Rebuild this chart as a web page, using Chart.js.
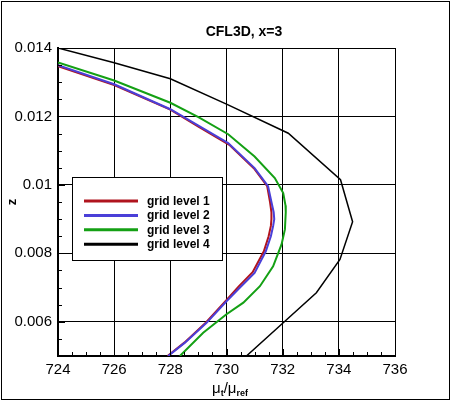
<!DOCTYPE html>
<html>
<head>
<meta charset="utf-8">
<script src="https://cdn.jsdelivr.net/npm/chart.js@4.4.1/dist/chart.umd.min.js"></script>
<style>
  html, body { margin: 0; padding: 0; background: #fff; }
</style>
</head>
<body>
<canvas id="myChart" width="450" height="401"></canvas>
<script>
// datos
const xTicks = [724, 726, 728, 730, 732, 734, 736];
const yTicks = [0.006, 0.008, 0.010, 0.012, 0.014];
const seriesNames = ["grid level 1", "grid level 2", "grid level 3", "grid level 4"];
const seriesColors = ["#b0141e", "#4a3fd8", "#14a014", "#000000"];

const level1Mu = [724.0, 726.0, 728.0, 729.0, 730.1, 731.0, 731.45, 731.55, 731.6, 731.6, 731.58, 731.5, 731.33, 730.93, 730.42, 729.98, 729.27, 728.5, 727.9];
const level1Z  = [0.01347, 0.01292, 0.01220, 0.01170, 0.01117, 0.01046, 0.00996, 0.00950, 0.00920, 0.00900, 0.00880, 0.00850, 0.00806, 0.00745, 0.00702, 0.00662, 0.00598, 0.00539, 0.00500];

const level2Mu = [724.0, 726.0, 728.0, 729.0, 730.06, 731.0, 731.48, 731.6, 731.68, 731.7, 731.66, 731.58, 731.4, 731.0, 730.48, 730.0, 729.29, 728.52, 727.92];
const level2Z  = [0.01350, 0.01294, 0.01221, 0.01173, 0.01122, 0.01049, 0.00996, 0.00950, 0.00920, 0.00900, 0.00880, 0.00850, 0.00806, 0.00743, 0.00700, 0.00660, 0.00597, 0.00539, 0.00500];

const level3Mu = [724.0, 726.0, 728.0, 729.0, 730.06, 731.0, 731.72, 732.02, 732.1, 732.11, 732.08, 731.96, 731.66, 731.19, 730.6, 730.0, 729.17, 728.34];
const level3Z  = [0.01358, 0.01305, 0.01240, 0.01198, 0.01148, 0.01083, 0.01020, 0.00976, 0.00940, 0.00920, 0.00870, 0.00826, 0.00762, 0.00704, 0.00656, 0.00622, 0.00568, 0.00500];

const level4Mu = [724.0, 726.0, 728.0, 730.0, 732.2, 734.06, 734.49, 734.04, 733.2, 732.02, 730.71];
const level4Z  = [0.01400, 0.01357, 0.01310, 0.01236, 0.01151, 0.01015, 0.00892, 0.00782, 0.00685, 0.00597, 0.00500];

const allMu = [level1Mu, level2Mu, level3Mu, level4Mu];
const allZ = [level1Z, level2Z, level3Z, level4Z];

const FONT = "'Liberation Sans', Arial, Helvetica, sans-serif";

// fondo blanco, titulo, etiquetas, leyenda y ticks interiores
const decorPlugin = {
  id: "decor",
  beforeDraw(chart) {
    const c = chart.ctx;
    c.save();
    c.fillStyle = "#fff";
    c.fillRect(0, 0, chart.width, chart.height);
    c.restore();
  },
  afterDatasetsDraw(chart) {
    const c = chart.ctx;
    const xs = chart.scales.x;
    const ys = chart.scales.y;
    const area = chart.chartArea;
    c.save();

    // ticks interiores (mayores y menores)
    c.strokeStyle = "#000";
    c.lineWidth = 1;
    c.beginPath();
    for (let i = 0; i <= 18; i++) {
      const v = 0.005 + i * 0.0005;
      const py = Math.round(ys.getPixelForValue(v)) + 0.5;
      const len = (i % 4 === 2) ? 7 : 4;
      c.moveTo(area.left, py);
      c.lineTo(area.left + len, py);
    }
    for (let i = 0; i <= 24; i++) {
      const v = 724 + i * 0.5;
      const px = Math.round(xs.getPixelForValue(v)) + 0.5;
      const len = (i % 4 === 0) ? 7 : 4;
      c.moveTo(px, area.bottom);
      c.lineTo(px, area.bottom - len);
    }
    c.stroke();

    // leyenda
    c.fillStyle = "#fff";
    c.fillRect(72.5, 177.5, 150, 83);
    c.strokeStyle = "#000";
    c.lineWidth = 1;
    c.strokeRect(72.5, 177.5, 150, 83);
    c.font = "bold 12px " + FONT;
    c.textBaseline = "middle";
    c.textAlign = "left";
    seriesNames.forEach((name, i) => {
      const y = 201 + i * 14.4;
      c.strokeStyle = seriesColors[i];
      c.lineWidth = 3;
      c.beginPath();
      c.moveTo(84, y);
      c.lineTo(138, y);
      c.stroke();
      c.fillStyle = "#000";
      c.fillText(name, 147, y + 0.5);
    });

    // titulo
    c.fillStyle = "#000";
    c.font = "bold 14px " + FONT;
    c.textAlign = "center";
    c.textBaseline = "middle";
    c.fillText("CFL3D, x=3", 244, 32);

    // etiqueta eje y
    c.save();
    c.translate(12, 202);
    c.rotate(-Math.PI / 2);
    c.font = "bold 13px " + FONT;
    c.fillText("z", 0, 0);
    c.restore();

    // etiqueta eje x: mu_t / mu_ref
    const parts = [
      { t: "\u03bc", f: "15px " + FONT, dy: 0 },
      { t: "t", f: "bold 9px " + FONT, dy: 3 },
      { t: "/", f: "15px " + FONT, dy: 0 },
      { t: "\u03bc", f: "15px " + FONT, dy: 0 },
      { t: "ref", f: "bold 9px " + FONT, dy: 3 }
    ];
    let total = 0;
    parts.forEach(p => { c.font = p.f; p.w = c.measureText(p.t).width; total += p.w; });
    let x0 = 230 - total / 2;
    c.textAlign = "left";
    c.textBaseline = "alphabetic";
    parts.forEach(p => {
      c.font = p.f;
      c.fillText(p.t, x0, 393 + p.dy);
      x0 += p.w;
    });

    // marco exterior
    c.strokeStyle = "#000";
    c.lineWidth = 1;
    c.strokeRect(1.5, 1.5, 448, 398);
    c.restore();
  }
};

const ctx = document.getElementById("myChart").getContext("2d");
const myChart = new Chart(ctx, {
  type: "scatter",
  data: {
    datasets: seriesNames.map((name, i) => ({
      label: name,
      data: allMu[i].map((mu, k) => ({ x: mu, y: allZ[i][k] })),
      showLine: true,
      borderColor: seriesColors[i],
      backgroundColor: seriesColors[i],
      borderWidth: i === 3 ? 1.5 : 2,
      pointRadius: 0,
      tension: 0,
      order: i === 0 ? 1 : 0
    }))
  },
  options: {
    responsive: false,
    animation: false,
    devicePixelRatio: 1,
    layout: { padding: { left: 0, right: 55, top: 48, bottom: 0 } },
    plugins: {
      legend: { display: false },
      title: { display: false },
      tooltip: { enabled: false }
    },
    scales: {
      x: {
        type: "linear",
        min: 724,
        max: 736,
        afterBuildTicks: (s) => { s.ticks = xTicks.map(v => ({ value: v })); },
        afterFit: (s) => { s.height = 45; },
        grid: { color: "#000", lineWidth: 1, drawTicks: false },
        border: { display: true, color: "#000", width: 2 },
        ticks: {
          color: "#000",
          padding: 5,
          font: { family: FONT, size: 15 },
          maxRotation: 0
        }
      },
      y: {
        type: "linear",
        min: 0.005,
        max: 0.014,
        afterBuildTicks: (s) => { s.ticks = yTicks.map(v => ({ value: v })); },
        afterFit: (s) => { s.width = 58; },
        grid: { color: "#000", lineWidth: 1, drawTicks: false },
        border: { display: true, color: "#000", width: 2 },
        ticks: {
          color: "#000",
          padding: 6,
          font: { family: FONT, size: 15 },
          callback: (v) => String(+v.toFixed(3))
        }
      }
    }
  },
  plugins: [decorPlugin]
});
</script>
</body>
</html>
